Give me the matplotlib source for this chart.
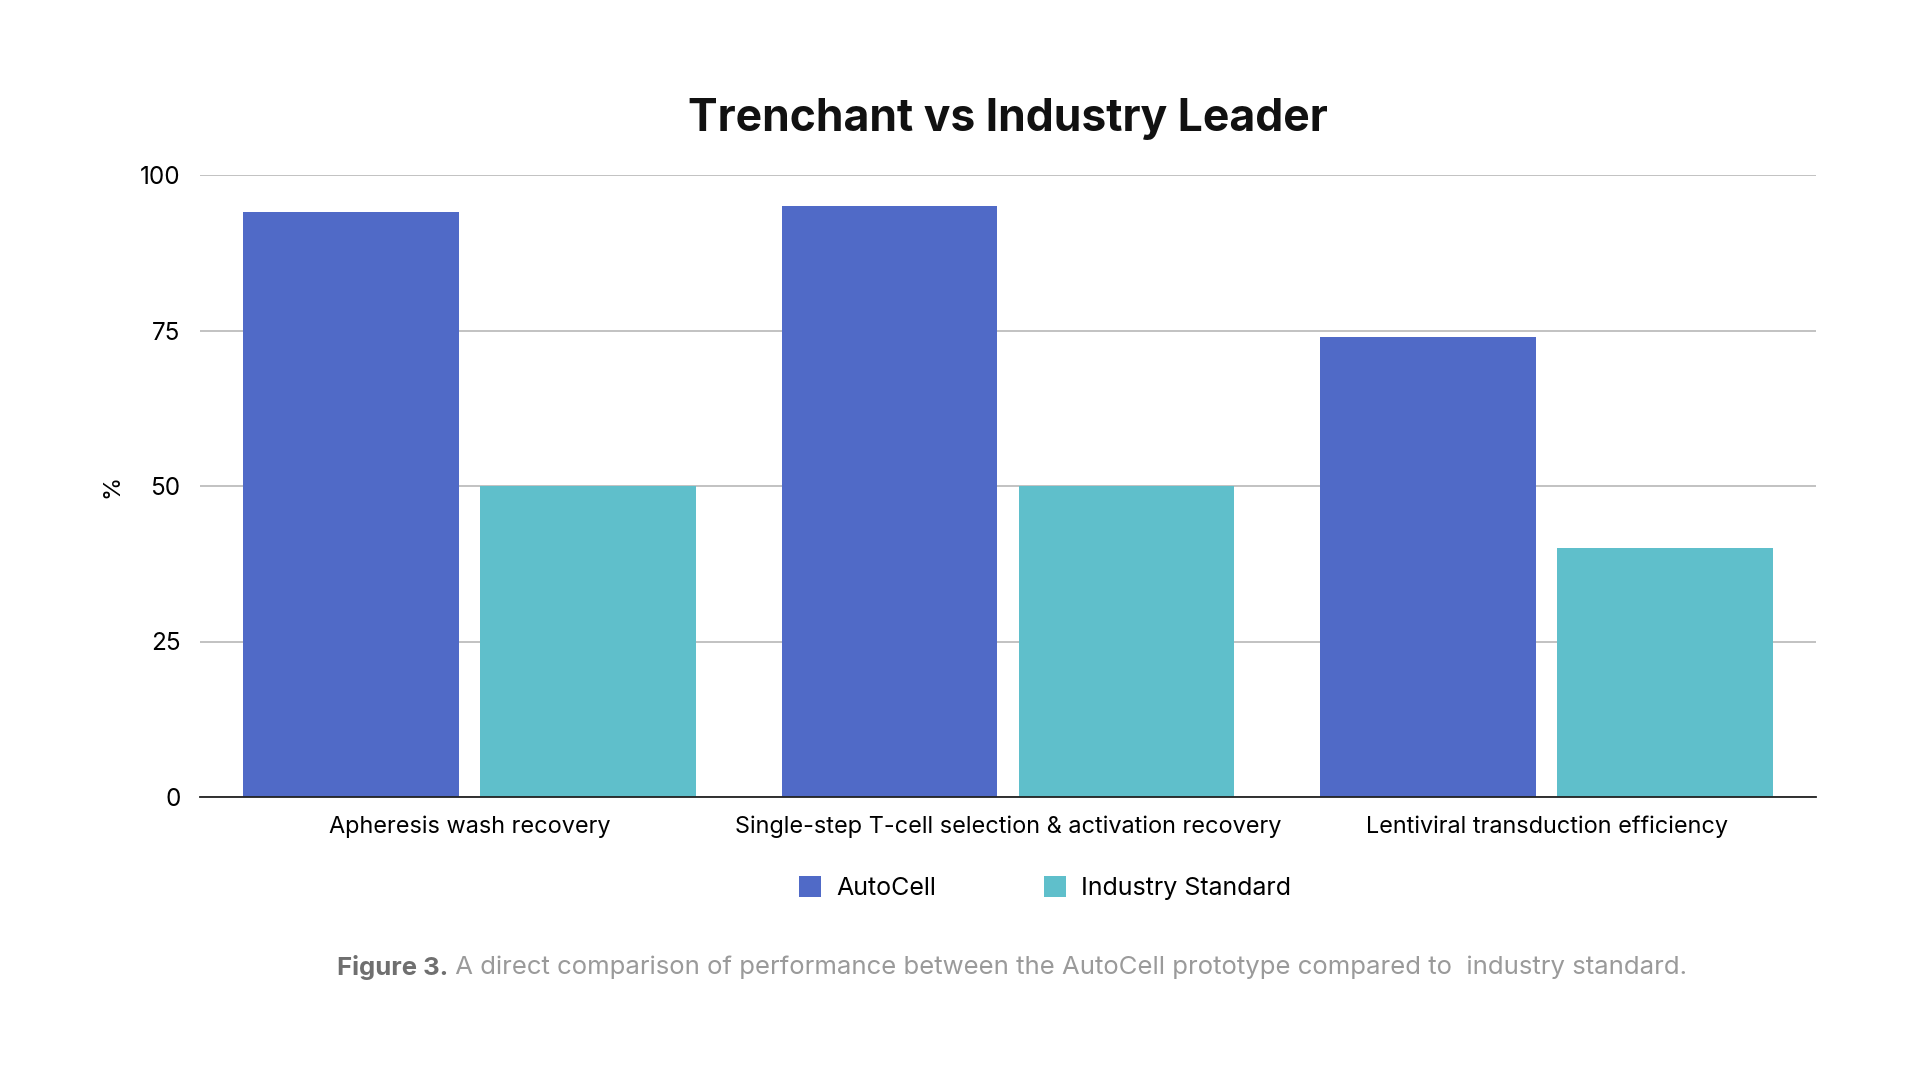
import matplotlib
matplotlib.use("Agg")
import matplotlib.pyplot as plt
from matplotlib.patches import Patch
import numpy as np

categories = [
    "Apheresis wash recovery",
    "Single-step T-cell selection & activation recovery",
    "Lentiviral transduction efficiency",
]
autocell = [94, 95, 74]
industry = [50, 50, 40]
series_names = ["AutoCell", "Industry Standard"]
y_ticks = [0, 25, 50, 75, 100]

BLUE = "#506ac7"
TEAL = "#5fbfcb"
FONT = ["Inter", "DejaVu Sans"]

plt.rcParams["font.family"] = FONT

fig = plt.figure(figsize=(19.2, 10.8), dpi=100)
ax_rect = [200 / 1920, 1 - 797 / 1080, 1616 / 1920, 622 / 1080]
ax = fig.add_axes(ax_rect)

x = np.arange(len(categories))
width = 0.4
ax.bar(x - 0.22, autocell, width, color=BLUE, zorder=3)
ax.bar(x + 0.22, industry, width, color=TEAL, zorder=3)

ax.set_xlim(-0.5, len(categories) - 0.5)
ax.set_ylim(0, 100)
ax.set_yticks(y_ticks)
ax.set_xticks(x)
ax.set_xticklabels(categories, fontsize=16.9)
ax.tick_params(axis="y", length=0, pad=14, labelsize=17.5)
ax.tick_params(axis="x", length=0, pad=13)
ax.grid(axis="y", color="#b7b7b7", linewidth=1.2, zorder=0)
for side in ("top", "right", "left"):
    ax.spines[side].set_visible(False)
ax.spines["bottom"].set_color("#222222")
ax.spines["bottom"].set_linewidth(1.3)
ax.spines["bottom"].set_zorder(4)

ax.set_ylabel("%", fontsize=17, labelpad=12)

cx = ax_rect[0] + ax_rect[2] / 2
fig.text(cx, 1 - 119 / 1080, "Trenchant vs Industry Leader", ha="center", va="center",
         fontsize=32, fontweight="bold", color="#111111")

# legend sits a little right of the plot centre in the original
handles = [Patch(facecolor=BLUE), Patch(facecolor=TEAL)]
fig.legend(handles, series_names, loc="center", bbox_to_anchor=(1045 / 1920, 1 - 888 / 1080),
           ncol=2, frameon=False, fontsize=18, handlelength=0.9, handleheight=0.9,
           handletextpad=0.6, columnspacing=4.3)

# caption: bold "Figure 3." followed by lighter sentence
cap = fig.text(337 / 1920, 1 - 967 / 1080, "Figure 3.", ha="left", va="center",
               fontsize=18.5, fontweight="bold", color="#6f6f6f")
ax.annotate(" A direct comparison of performance between the AutoCell prototype compared to  industry standard.",
            xy=(1, 0.5), xycoords=cap, ha="left", va="center",
            fontsize=18.5, color="#9a9a9a")

fig.savefig("out.png", dpi=100, facecolor="white")
